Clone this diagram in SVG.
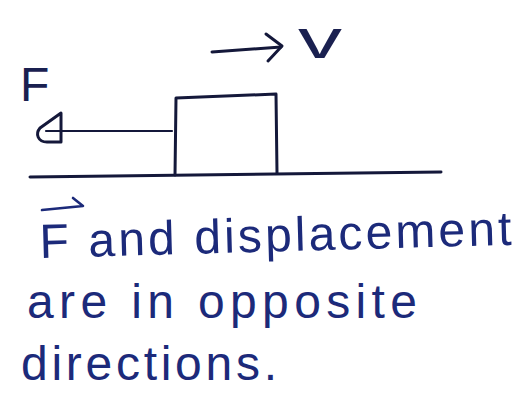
<svg xmlns="http://www.w3.org/2000/svg" width="526" height="394" viewBox="0 0 526 394">
  <style>
    .ink { fill: none; stroke: #14183a; stroke-width: 3; stroke-linecap: round; stroke-linejoin: round; }
    .thin { fill: none; stroke: #14183a; stroke-width: 2.2; stroke-linecap: round; stroke-linejoin: round; }
    .pen { fill: none; stroke: #1c2a7a; stroke-width: 2.6; stroke-linecap: round; stroke-linejoin: round; }
    .lbl { font-family: "Liberation Sans", Arial, sans-serif; fill: #1a2050; }
    .hand { font-family: "Liberation Sans", Arial, sans-serif; fill: #1c2a7a; font-size: 48px; }
  </style>
  <rect width="526" height="394" fill="#ffffff"/>

  <g id="ground">
    <path class="ink" d="M 30 177 L 441 172"/>
  </g>

  <g id="block">
    <path class="ink" d="M 175 175 L 176 98 L 276 94 L 277 173"/>
  </g>

  <g id="connectors">
    <g id="force-arrow">
      <path class="thin" d="M 46 131 L 172 131"/>
      <path class="ink" d="M 61 113 L 61 142 L 47 142 C 38 142 35 134 40 128 Z"/>
    </g>
    <g id="velocity-arrow">
      <path class="ink" d="M 212 52 L 281 47"/>
      <path class="ink" d="M 266 34 L 282 46 L 268 61"/>
    </g>
  </g>

  <g id="label-F">
    <text class="lbl" x="20" y="101" font-size="48">F</text>
  </g>

  <g id="label-v">
    <text class="lbl" x="298" y="58" font-size="56" textLength="44" lengthAdjust="spacingAndGlyphs">v</text>
  </g>

  <g id="caption">
    <path class="pen" d="M 42 210 L 83 206 L 73 198"/>
    <text class="hand" x="40" y="258" textLength="472" lengthAdjust="spacing" transform="rotate(-1.6 40 258)">F and displacement</text>
    <text class="hand" x="27" y="318" textLength="390" lengthAdjust="spacing">are in opposite</text>
    <text class="hand" x="21" y="380" textLength="256" lengthAdjust="spacing">directions.</text>
  </g>
</svg>
